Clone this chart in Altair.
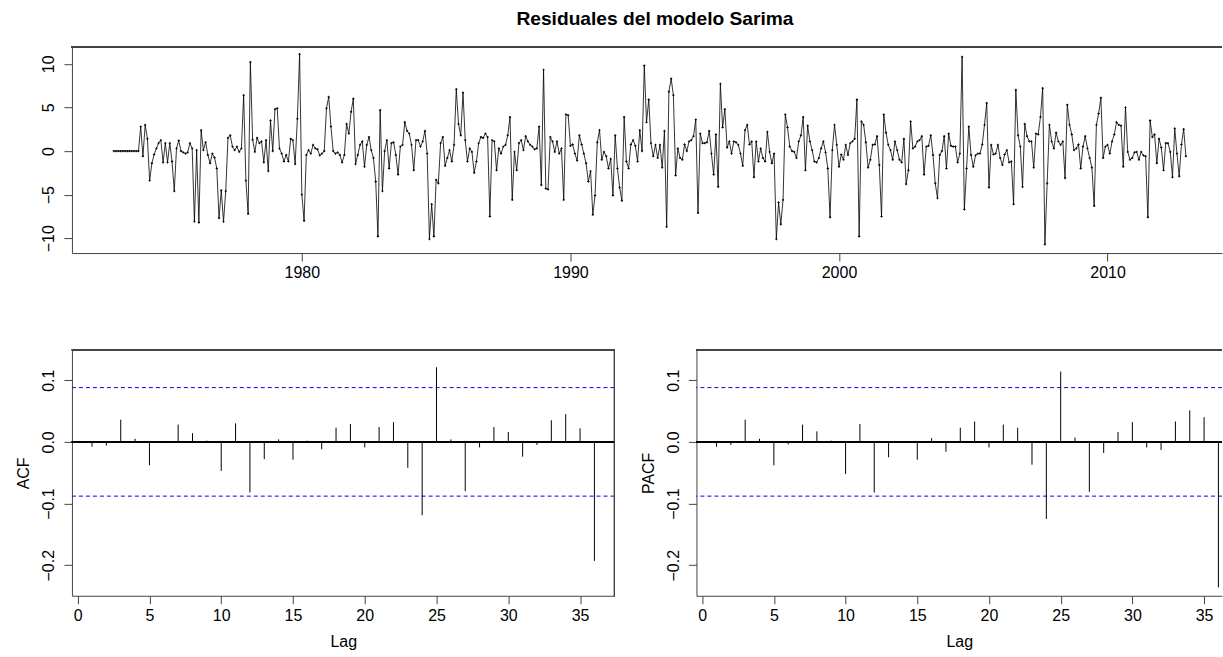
import altair as alt
import pandas as pd

title_text = "Residuales del modelo Sarima"
start_year = 1973
frequency = 12

residuals = [
    0, 0, 0, 0, 0, 0, 0, 0, 0, 0, 0, 0,
    2.8, -0.6, 3.0, 1.4, -3.4, -1.4, -0.4, 0.3, 0.9, 1.25, -1.3, 0.9,
    -1.3, 0.9, -1.2, -4.6, 0.3, 1.2, 0.0, -0.15, -0.3, -0.15, 0.9, 0.3,
    -8.1, 0.1, -8.2, 2.4, 0.1, 1.0, -0.45, -1.4, -0.3, -0.75, -2.0, -7.7,
    -4.5, -8.1, -4.6, 1.5, 1.8, 0.5, 0.1, 0.5, -0.1, 0.3, 6.4, -3.4,
    -7.2, 10.2, 1.3, -0.1, 1.5, 0.9, 1.1, -1.3, 1.25, -2.3, 3.5, 0.0,
    4.8, 4.9, 0.3, -0.3, -1.2, -0.45, -1.2, 1.4, 1.25, -1.5, 3.7, 11.1,
    -5.0, -8.0, -0.45, 0.1, -0.3, 0.7, 0.3, 0.2, -0.5, -0.3, 0.0, 4.9,
    6.2, 2.8, 0.0, -0.3, -0.15, -0.45, -1.3, -0.45, 3.1, 2.0, 4.5, 6.0,
    -1.5, -0.45, 0.7, 1.1, -1.8, 0.7, 1.6, 0.1, -0.8, -3.5, -9.8, 4.7,
    -4.6, 0.0, 1.25, -2.0, 0.9, 1.0, -0.45, -2.7, 0.5, 0.7, 3.3, 2.3,
    2.0, 0.7, -2.2, 1.25, 1.25, 0.5, 1.1, 2.3, -0.3, -10.1, -6.1, -9.8,
    -3.3, -3.7, 0.9, 1.6, -1.7, -0.8, 0.1, -1.2, 0.7, 7.1, 3.1, 1.8,
    6.7, 1.25, -1.2, 0.3, -0.1, -2.5, -1.2, 0.9, 1.6, 1.5, 2.0, 1.6,
    -7.5, 1.25, 1.1, -2.2, 0.3, -0.3, 0.5, 0.7, 1.8, 3.9, -5.6, -0.1,
    -2.2, 0.9, 1.25, 0.1, 1.7, 1.1, 0.7, 0.5, 0.2, 0.3, 2.8, -3.9,
    9.3, -4.3, -4.4, 1.6, 1.1, -0.1, 1.1, -0.3, 0.3, -5.6, 4.2, 4.1,
    0.6, 0.75, -0.3, -1.1, 1.8, 0.75, -0.3, -1.4, -3.5, -2.3, -7.3, -5.1,
    1.0, 2.4, -1.0, -0.1, -0.6, -2.0, -0.9, -5.1, 1.8, -2.0, -4.2, -5.7,
    3.9, -1.2, -2.0, 0.75, 1.25, 0.6, -1.2, 2.4, 0.0, 9.8, 3.3, 5.9,
    0.9, -0.6, 0.7, -0.8, 0.7, -1.9, 2.3, -8.7, 6.8, 8.3, 6.4, -2.8,
    0.3, -0.8, -1.0, 0.75, 0.0, 1.1, 1.25, 1.7, 3.6, -7.1, 2.0, 0.9,
    0.9, 1.0, 2.3, -0.3, -2.7, 1.9, -4.1, 7.7, 2.7, 4.8, 0.4, 1.1,
    -0.3, 1.1, 1.0, 0.7, -0.3, -1.7, 2.4, 3.0, 0.75, 1.1, -3.0, 1.1,
    -1.2, 0.3, -0.8, -1.2, 2.2, -0.1, -1.4, -0.3, -10.1, -5.9, -8.4, -5.6,
    4.2, 2.7, 0.5, 0.0, -0.1, -0.8, 1.1, 1.8, 3.9, -2.2, 2.9, 1.1,
    0.1, -1.2, -1.3, -0.8, 0.3, 1.1, -0.15, -2.0, -7.6, 0.1, 3.0, 0.7,
    -1.8, -0.4, -1.0, 0.7, -0.45, 0.9, 1.1, 1.4, 5.9, -9.8, 3.4, 3.0,
    1.0, -1.9, -1.0, 0.7, 0.75, 1.7, -1.6, -7.5, 4.2, 2.1, 0.7, 0.1,
    -1.0, 1.1, 0.1, -1.0, -1.3, 1.4, -3.8, -2.2, 3.4, 0.3, 0.5, 1.1,
    1.25, 1.7, -2.7, 0.5, 0.6, 1.8, -0.45, -3.7, -5.4, -0.45, 0.0, 1.7,
    -2.0, 2.0, 0.6, 0.5, 0.5, -1.3, -0.3, 10.8, -6.7, -2.0, 2.8, -0.45,
    -1.8, -0.5, -0.3, -0.3, 0.75, 3.0, 5.5, -4.2, 0.7, -0.4, -0.3, 0.7,
    -0.8, -1.6, -0.4, 0.1, -1.3, -1.2, -6.1, 7.0, 1.8, 0.5, -4.1, 3.1,
    1.7, 1.1, 1.1, -1.9, 2.0, 1.9, 3.9, 7.2, -10.7, -3.7, 3.0, 1.1,
    0.3, 2.1, 1.1, 0.7, 1.1, -3.1, 5.3, 3.0, 1.9, 0.1, 0.3, 0.75,
    -2.0, 0.5, 1.7, 0.3, -0.8, -1.9, -6.3, 3.0, 4.3, 6.1, -0.8, 0.5,
    0.7, -0.3, 1.1, 1.9, 3.3, 3.0, 2.9, -1.8, 5.0, -0.1, -1.0, -0.8,
    -0.15, -0.1, -1.0, -0.1, -0.5, -0.6, -7.6, 3.5, 1.6, 1.9, -1.4, 1.4,
    0.4, -2.2, 0.9, 0.9, -0.1, -3.0, 2.6, -0.3, -2.9, 0.75, 2.5, -0.6,
]

lags = list(range(1, 37))
acf_values = [
    -0.008, -0.006, 0.036, 0.005, -0.038, -0.002, 0.028, 0.014, 0.002, -0.047,
    0.030, -0.082, -0.028, 0.004, -0.029, 0.002, -0.012, 0.023, 0.029, -0.009,
    0.024, 0.032, -0.042, -0.119, 0.121, 0.004, -0.080, -0.009, 0.024, 0.016,
    -0.024, -0.005, 0.035, 0.045, 0.022, -0.193,
]
pacf_values = [
    -0.008, -0.005, 0.036, 0.005, -0.038, -0.004, 0.028, 0.017, 0.002, -0.052,
    0.029, -0.082, -0.025, 0.001, -0.029, 0.006, -0.016, 0.023, 0.033, -0.009,
    0.028, 0.023, -0.037, -0.125, 0.114, 0.007, -0.081, -0.018, 0.016, 0.032,
    -0.009, -0.013, 0.033, 0.051, 0.040, -0.236,
]
conf_bound = 0.088

year_ticks = [1980, 1990, 2000, 2010]
resid_ticks = [-10, -5, 0, 5, 10]
corr_ticks = [-0.2, -0.1, 0.0, 0.1]
lag_ticks = [0, 5, 10, 15, 20, 25, 30, 35]

FONT = "Liberation Sans"
FRAME = "#444444"
FS = 16

# ---------------- top panel: residual series ----------------
ts_df = pd.DataFrame({
    "time": [start_year + i / frequency for i in range(len(residuals))],
    "resid": residuals,
})
TOP_W, TOP_H = 1151, 206
x_time = alt.Scale(domain=[1971.44, 2014.26], nice=False, zero=False)
y_res = alt.Scale(domain=[-11.7, 11.9], nice=False, zero=False)

ts_base = alt.Chart(ts_df)
ts_line = ts_base.mark_line(color="black", strokeWidth=0.8).encode(
    x=alt.X("time:Q", scale=x_time, title=None,
            axis=alt.Axis(values=year_ticks, format="d", labelPadding=3)),
    y=alt.Y("resid:Q", scale=y_res, title=None,
            axis=alt.Axis(values=resid_ticks, labelAngle=270, labelAlign="center",
                          labelBaseline="bottom", labelPadding=7)),
)
ts_pts = ts_base.mark_point(shape="cross", size=5, filled=True, color="black",
                            opacity=1).encode(x="time:Q", y="resid:Q")
top_border = alt.Chart(ts_df).mark_rule(color=FRAME, strokeWidth=1).encode(
    x=alt.value(0), x2=alt.value(TOP_W), y=alt.value(0))

top = alt.layer(ts_line, ts_pts, top_border).properties(
    width=TOP_W, height=TOP_H,
    title=alt.TitleParams(title_text, font=FONT, fontSize=19.2, fontWeight="bold",
                          anchor="middle", baseline="alphabetic", offset=3, dx=8,
                          color="black"),
)

# ---------------- correlogram panels ----------------
ACF_H = 246


def correlogram(values, ylabel, width, xmax, right_border):
    df = pd.DataFrame({"lag": lags, "value": values})
    bd = pd.DataFrame({"bound": [conf_bound, -conf_bound]})
    xs = alt.Scale(domain=[-0.4, xmax], nice=False, zero=False)
    ys = alt.Scale(domain=[-0.2496, 0.149], nice=False, zero=False)
    bars = alt.Chart(df).mark_rule(color="black", strokeWidth=1).encode(
        x=alt.X("lag:Q", scale=xs, title="Lag",
                axis=alt.Axis(values=lag_ticks, labelPadding=4, titlePadding=10)),
        y=alt.Y("value:Q", scale=ys, title=ylabel,
                axis=alt.Axis(values=corr_ticks, format=".1f", labelAngle=270,
                              labelAlign="center", labelBaseline="bottom",
                              labelPadding=7, titlePadding=9)),
        y2=alt.datum(0),
    )
    zero = alt.Chart(df).mark_rule(color="black", strokeWidth=1).encode(
        y=alt.datum(0, scale=ys))
    bounds = alt.Chart(bd).mark_rule(color="#0000FF", strokeWidth=1,
                                     strokeDash=[4, 3]).encode(
        y=alt.Y("bound:Q", scale=ys))
    tb = alt.Chart(df).mark_rule(color=FRAME, strokeWidth=1).encode(
        x=alt.value(0), x2=alt.value(width), y=alt.value(0))
    layers = [zero, bounds, bars, tb]
    if right_border:
        rb = alt.Chart(df).mark_rule(color=FRAME, strokeWidth=1).encode(
            x=alt.value(width), y=alt.value(0), y2=alt.value(ACF_H))
        layers.append(rb)
    return alt.layer(*layers).properties(width=width, height=ACF_H)


acf_chart = correlogram(acf_values, "ACF", 543, 37.4, True)
pacf_chart = correlogram(pacf_values, "PACF", 526, 36.25, False)

bottom = alt.hconcat(acf_chart, pacf_chart, spacing=82, bounds="flush")

chart = alt.vconcat(top, bottom, spacing=97, bounds="flush").properties(
    padding={"left": 16, "top": 9, "right": 0, "bottom": 4},
    background="white",
).configure_view(stroke=None).configure_axis(
    labelFont=FONT, labelFontSize=FS, labelColor="black",
    titleFont=FONT, titleFontSize=FS, titleFontWeight="normal", titleColor="black",
    tickColor=FRAME, domainColor=FRAME, tickSize=8, grid=False,
    domainWidth=1, tickWidth=1,
)

chart.save("out.html", embed_options={"renderer": "svg", "actions": False})
